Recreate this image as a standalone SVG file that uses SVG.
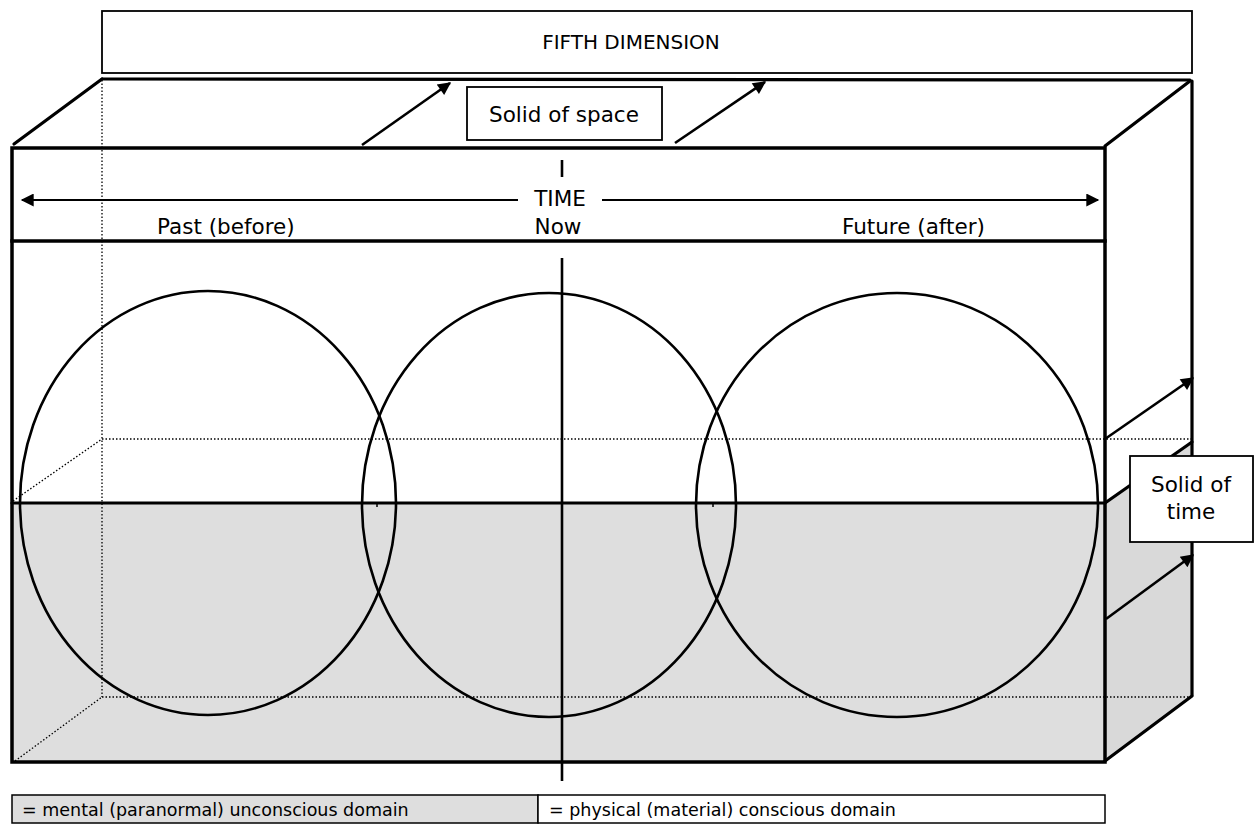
<svg xmlns="http://www.w3.org/2000/svg" width="1259" height="825" viewBox="0 0 1259 825">
  <style>
    .label { font-family: "DejaVu Sans", Verdana, sans-serif; font-size: 21.5px; fill: #000; }
    .banner { font-size: 20px; }
    .key { font-size: 17.5px; }
    .mid { text-anchor: middle; }
    .frame { fill: none; stroke: #000; stroke-width: 3.5; stroke-linecap: square; }
    .edge { fill: none; stroke: #000; stroke-width: 3.2; stroke-linecap: round; }
    .hidden { fill: none; stroke: #000; stroke-width: 1.3; stroke-dasharray: 1.5 2; }
    .ring { fill: none; stroke: #000; stroke-width: 2.6; }
    .tag { fill: #fff; stroke: #000; stroke-width: 1.8; }
    .conn { fill: none; stroke: #000; stroke-width: 2.6; }
    .axis { fill: none; stroke: #000; stroke-width: 2; }
  </style>
  <defs>
    <marker id="head" viewBox="0 0 10 10" refX="9" refY="5" markerWidth="16" markerHeight="13" markerUnits="userSpaceOnUse" orient="auto">
      <path d="M0,0 L10,5 L0,10 z" fill="#000"/>
    </marker>
  </defs>

  <rect width="1259" height="825" fill="#fff"/>

  <!-- fifth dimension banner -->
  <g id="fifth-dimension">
    <rect class="tag" x="102" y="11" width="1090" height="62"/>
    <text class="label banner mid" x="631" y="49">FIFTH DIMENSION</text>
  </g>

  <!-- solid of time/space: shaded lower half, hidden edges -->
  <g id="solid">
    <rect x="12" y="503" width="1093" height="259" fill="#dedede"/>
    <polygon points="1105,503 1192,442 1192,695 1105,761" fill="#d9d9d9"/>
    <line class="hidden" x1="102" y1="80" x2="102" y2="697"/>
    <line class="hidden" x1="102" y1="439" x2="1192" y2="439"/>
    <line class="hidden" x1="102" y1="697" x2="1192" y2="697"/>
    <line class="hidden" x1="13" y1="501" x2="102" y2="439"/>
    <line class="hidden" x1="15" y1="761" x2="102" y2="697"/>
  </g>

  <g id="circles">
    <ellipse class="ring" cx="208" cy="503" rx="188" ry="212"/>
    <ellipse class="ring" cx="549" cy="505" rx="187" ry="212"/>
    <ellipse class="ring" cx="897" cy="505" rx="201" ry="212"/>
    <line x1="377" y1="503" x2="377" y2="507" stroke="#000" stroke-width="1.5"/>
    <line x1="713" y1="503" x2="713" y2="507" stroke="#000" stroke-width="1.5"/>
  </g>

  <g id="box-outline">
    <rect class="frame" x="12" y="148" width="1093" height="614"/>
    <line class="frame" x1="12" y1="241" x2="1105" y2="241"/>
    <line class="edge" x1="12" y1="503" x2="1105" y2="503"/>
    <line class="edge" x1="102" y1="79" x2="1190" y2="80"/>
    <line class="edge" x1="14" y1="144" x2="102" y2="79"/>
    <line class="edge" x1="1105" y1="146" x2="1190" y2="81"/>
    <line class="edge" x1="1192" y1="81" x2="1192" y2="695"/>
    <line class="edge" x1="1105" y1="761" x2="1192" y2="696"/>
    <line class="edge" x1="1105" y1="503" x2="1192" y2="442"/>
    <!-- now axis -->
    <line x1="562" y1="258" x2="562" y2="781" stroke="#000" stroke-width="2.6"/>
    <line x1="562" y1="160" x2="562" y2="177" stroke="#000" stroke-width="2.6"/>
  </g>

  <g id="time-axis">
    <text class="label mid" x="560" y="206">TIME</text>
    <text class="label" x="157" y="234">Past (before)</text>
    <text class="label mid" x="558" y="234">Now</text>
    <text class="label" x="842" y="234">Future (after)</text>
  </g>

  <g id="solid-of-space">
    <rect class="tag" x="467" y="87" width="195" height="53"/>
    <text class="label mid" x="564" y="122">Solid of space</text>
  </g>

  <g id="solid-of-time">
    <rect class="tag" x="1130" y="456" width="123" height="86"/>
    <text class="label mid" x="1191" y="492">Solid of</text>
    <text class="label mid" x="1191" y="519">time</text>
  </g>

  <g id="connectors">
    <line class="axis" x1="518" y1="200" x2="22" y2="200" marker-end="url(#head)"/>
    <line class="axis" x1="602" y1="200" x2="1098" y2="200" marker-end="url(#head)"/>
    <line class="conn" x1="362" y1="145" x2="450" y2="83" marker-end="url(#head)"/>
    <line class="conn" x1="675" y1="143" x2="765" y2="82" marker-end="url(#head)"/>
    <line class="conn" x1="1105" y1="439" x2="1193" y2="378" marker-end="url(#head)"/>
    <line class="conn" x1="1106" y1="619" x2="1193" y2="555" marker-end="url(#head)"/>
  </g>

  <g id="legend">
    <rect x="12" y="795" width="526" height="28" fill="#dedede" stroke="#000" stroke-width="1.5"/>
    <rect x="538" y="795" width="567" height="28" fill="#fff" stroke="#000" stroke-width="1.5"/>
    <text class="label key" x="22" y="816">= mental (paranormal) unconscious domain</text>
    <text class="label key" x="549" y="816">= physical (material) conscious domain</text>
  </g>
</svg>
